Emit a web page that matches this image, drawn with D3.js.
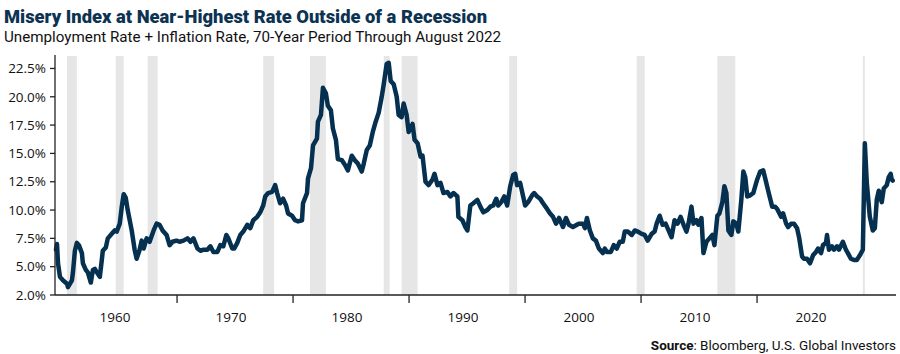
<!DOCTYPE html>
<html>
<head>
<meta charset="utf-8">
<script src="https://cdn.jsdelivr.net/npm/d3@7"></script>
<style>
  html, body { margin: 0; padding: 0; background: #fff; }
  svg { display: block; }
</style>
</head>
<body>
<div id="chart"></div>
<script>
const width = 900;
const height = 354;

// misery index readings (month, percent)
const dates = [
  "1952-08","1952-09","1952-10","1952-12","1953-03","1953-07","1953-08","1953-12","1954-01","1954-03",
  "1954-05","1954-07","1954-10","1954-11","1955-02","1955-04","1955-07","1955-09","1955-11","1956-01",
  "1956-04","1956-06","1956-07","1956-10","1956-12","1957-04","1957-07","1957-09","1957-12","1958-02",
  "1958-04","1958-06","1958-08","1958-12","1959-03","1959-05","1959-08","1959-10","1959-12","1960-03",
  "1960-06","1960-10","1961-01","1961-04","1961-07","1961-11","1962-02","1962-05","1962-09","1962-12",
  "1963-04","1963-08","1963-11","1964-02","1964-06","1964-09","1964-12","1965-04","1965-07","1965-10",
  "1966-02","1966-05","1966-08","1966-11","1967-01","1967-05","1967-07","1967-10","1968-01","1968-04",
  "1968-08","1968-11","1969-02","1969-06","1969-09","1969-12","1970-02","1970-05","1970-09","1970-12",
  "1971-02","1971-05","1971-08","1971-11","1972-01","1972-05","1972-08","1972-11","1973-03","1973-04",
  "1973-08","1973-09","1973-12","1974-02","1974-06","1974-07","1974-10","1974-12","1975-03","1975-05",
  "1975-08","1975-10","1976-01","1976-03","1976-07","1976-10","1977-01","1977-05","1977-08","1977-11",
  "1978-03","1978-05","1978-08","1978-11","1979-02","1979-05","1979-08","1979-11","1980-01","1980-04",
  "1980-06","1980-08","1980-11","1981-02","1981-04","1981-07","1981-09","1981-12","1982-02","1982-06",
  "1982-08","1982-11","1983-02","1983-04","1983-07","1983-10","1984-02","1984-04","1984-07","1984-10",
  "1985-01","1985-05","1985-08","1985-11","1986-03","1986-04","1986-08","1986-11","1987-01","1987-04",
  "1987-07","1987-11","1988-02","1988-05","1988-09","1988-12","1989-03","1989-06","1989-08","1989-11",
  "1990-02","1990-05","1990-08","1990-11","1991-01","1991-03","1991-06","1991-09","1991-11","1992-02",
  "1992-06","1992-08","1992-11","1993-02","1993-05","1993-09","1993-12","1994-03","1994-06","1994-09",
  "1995-01","1995-04","1995-07","1995-11","1996-03","1996-05","1996-09","1996-11","1997-01","1997-04",
  "1997-07","1997-10","1998-01","1998-05","1998-07","1998-09","1999-01","1999-04","1999-07","1999-10",
  "2000-01","2000-03","2000-06","2000-10","2001-01","2001-04","2001-08","2001-11","2002-02","2002-06",
  "2002-09","2002-11","2003-02","2003-05","2003-08","2003-10","2004-02","2004-05","2004-08","2004-11",
  "2005-02","2005-05","2005-07","2005-10","2005-12","2006-03","2006-05","2006-08","2006-10","2007-01",
  "2007-04","2007-07","2007-09","2007-12","2008-02","2008-05","2008-07","2008-09","2008-11","2009-02",
  "2009-04","2009-07","2009-09","2009-12","2010-02","2010-04","2010-06","2010-09","2010-12","2011-04",
  "2011-07","2011-10","2011-12","2012-03","2012-07","2012-10","2012-12","2013-04","2013-06","2013-09",
  "2013-11","2014-02","2014-05","2014-08","2014-10","2015-01","2015-03","2015-06","2015-09","2015-12",
  "2016-03","2016-05","2016-08","2016-10","2017-01","2017-02","2017-04","2017-07","2017-09","2017-12",
  "2018-02","2018-06","2018-09","2018-11","2019-02","2019-05","2019-08","2019-11","2020-02","2020-04",
  "2020-06","2020-09","2020-12","2021-02","2021-04","2021-06","2021-09","2021-11","2022-02","2022-04",
  "2022-06","2022-07","2022-08"
];
const values = [
  6.5, 7.0, 5.3, 4.1, 3.8, 3.5, 3.2, 3.8, 4.5, 6.4,
  7.1, 6.9, 6.2, 5.3, 4.7, 4.5, 3.6, 4.7, 4.8, 4.5,
  4.1, 5.6, 6.4, 6.7, 7.5, 7.9, 8.2, 8.1, 8.8, 10.3,
  11.4, 11.1, 10.0, 8.2, 6.5, 5.7, 6.5, 7.3, 6.6, 7.5,
  7.2, 8.2, 8.8, 8.7, 8.2, 7.8, 6.9, 7.2, 7.3, 7.2,
  7.3, 7.5, 7.2, 7.5, 6.6, 6.4, 6.5, 6.5, 6.8, 6.3,
  6.3, 6.9, 6.8, 7.8, 7.5, 6.6, 6.6, 7.1, 7.8, 8.1,
  8.7, 8.4, 9.1, 9.4, 9.8, 10.4, 11.2, 11.5, 11.6, 12.2,
  11.5, 10.6, 11.0, 10.4, 9.7, 9.5, 9.1, 9.0, 9.1, 10.6,
  11.5, 12.8, 13.7, 15.7, 16.3, 17.8, 18.4, 20.8, 20.3, 19.2,
  18.8, 17.2, 16.2, 14.5, 14.4, 14.0, 13.5, 14.8, 14.4, 14.1,
  13.4, 14.1, 15.3, 15.7, 16.9, 17.8, 18.6, 20.0, 21.1, 22.9,
  23.0, 21.4, 21.1, 20.0, 18.4, 18.2, 19.4, 18.4, 16.9, 17.6,
  16.2, 15.9, 14.7, 14.8, 12.5, 12.2, 12.7, 13.2, 12.2, 12.4,
  11.5, 11.6, 11.2, 11.5, 11.2, 9.4, 9.1, 8.5, 8.2, 10.4,
  10.6, 10.9, 10.3, 9.8, 10.0, 10.3, 10.4, 11.0, 10.4, 10.7,
  11.2, 10.4, 12.1, 13.1, 13.2, 12.2, 12.4, 11.2, 10.4, 10.7,
  11.3, 11.5, 11.2, 11.0, 10.6, 10.1, 9.7, 9.4, 8.8, 9.3,
  8.5, 9.3, 8.7, 8.5, 8.7, 8.8, 8.8, 8.4, 9.3, 8.2,
  7.5, 7.3, 6.6, 6.2, 6.6, 6.3, 6.3, 6.9, 6.6, 7.2,
  7.2, 8.1, 8.1, 7.8, 8.2, 8.1, 7.9, 7.8, 7.3, 7.9,
  8.1, 8.8, 9.5, 8.7, 8.8, 8.4, 7.6, 9.1, 8.8, 9.4,
  8.7, 8.1, 8.8, 10.3, 8.8, 9.1, 8.7, 9.3, 6.2, 7.2,
  7.5, 7.8, 6.9, 9.5, 9.7, 10.7, 12.1, 11.5, 8.2, 7.8,
  9.0, 8.8, 8.1, 10.9, 13.4, 12.9, 11.2, 11.3, 11.5, 12.7,
  13.4, 13.5, 12.8, 11.7, 10.3, 10.3, 10.1, 9.4, 9.7, 8.8,
  8.5, 8.8, 8.8, 8.4, 7.6, 5.9, 5.7, 5.7, 5.3, 6.0,
  6.3, 6.6, 6.2, 6.9, 7.1, 7.8, 6.5, 6.8, 6.5, 6.8,
  6.5, 7.2, 6.5, 6.2, 5.7, 5.6, 5.6, 6.0, 6.5, 15.9,
  12.4, 9.4, 8.2, 8.4, 10.9, 11.7, 10.7, 11.9, 12.2, 12.9,
  13.2, 12.7, 12.6
];

// NBER recessions
const recessionStart = ["1953-07","1957-08","1960-04","1969-12","1973-11","1980-01","1981-07","1990-07","2001-03","2007-12","2020-02"];
const recessionEnd   = ["1954-05","1958-04","1961-02","1970-11","1975-03","1980-07","1982-11","1991-03","2001-11","2009-06","2020-04"];

const yTicks = [2.5, 5, 7.5, 10, 12.5, 15, 17.5, 20, 22.5];
const yTickLabels = ["2.0%","5.0%","7.5%","10.0%","12.5%","15.0%","17.5%","20.0%","22.5%"];
const decades = ["1960","1970","1980","1990","2000","2010","2020"];

const parse = d3.timeParse("%Y-%m");
const data = dates.map((d, i) => ({ date: parse(d), value: values[i] }));
const recessions = recessionStart.map((s, i) => ({ start: parse(s), end: parse(recessionEnd[i]) }));

const plotLeft = 55, plotRight = 896, plotTop = 56, plotBottom = 295;

const svg = d3.select("#chart")
    .append("svg")
    .attr("width", width)
    .attr("height", height);

const x = d3.scaleTime()
    .domain([parse("1952-08"), parse("2022-08")])
    .range([plotLeft + 1, 892.7]);

const y = d3.scaleLinear()
    .domain([2.5, 23.6])
    .range([plotBottom, plotTop]);

// decade labels sit on their own band axis
const xLabel = d3.scaleBand()
    .domain(decades)
    .range([57, 869]);

svg.selectAll("rect.rec")
    .data(recessions)
    .enter()
    .append("rect")
    .attr("class", "rec")
    .attr("x", d => x(d.start))
    .attr("width", d => Math.max(2, x(d.end) - x(d.start)))
    .attr("y", plotTop)
    .attr("height", plotBottom - plotTop)
    .style("fill", "#e6e6e6");

const line = d3.line()
    .x(d => x(d.date))
    .y(d => y(d.value));

svg.append("path")
    .datum(data)
    .attr("d", line)
    .style("fill", "none")
    .style("stroke", "#05304f")
    .style("stroke-width", 4.5)
    .style("stroke-linejoin", "round")
    .style("stroke-linecap", "round");

// axes
svg.append("line")
    .attr("x1", plotLeft).attr("x2", plotLeft)
    .attr("y1", plotTop - 1).attr("y2", plotBottom)
    .style("stroke", "#222").style("stroke-width", 1.3);

svg.append("line")
    .attr("x1", plotLeft).attr("x2", plotRight)
    .attr("y1", plotBottom).attr("y2", plotBottom)
    .style("stroke", "#222").style("stroke-width", 1.3);

const yAxis = svg.append("g").attr("class", "yaxis");
yTicks.forEach((t, i) => {
    yAxis.append("line")
        .attr("x1", plotLeft - 5).attr("x2", plotLeft)
        .attr("y1", y(t)).attr("y2", y(t))
        .style("stroke", "#222").style("stroke-width", 1.3);
    yAxis.append("text")
        .attr("x", plotLeft - 9)
        .attr("y", y(t))
        .attr("dy", "0.35em")
        .attr("text-anchor", "end")
        .style("font-family", "'Open Sans', Roboto, sans-serif")
        .style("font-size", "13.5px")
        .style("fill", "#111")
        .text(yTickLabels[i]);
});

const xAxis = svg.append("g").attr("class", "xaxis");
decades.forEach((d, i) => {
    const cx = xLabel(d) + xLabel.bandwidth() / 2;
    xAxis.append("text")
        .attr("x", cx)
        .attr("y", 322)
        .attr("text-anchor", "middle")
        .style("font-family", "'Open Sans', Roboto, sans-serif")
        .style("font-size", "13.5px")
        .style("fill", "#111")
        .text(d);
    if (i < decades.length - 1) {
        const tx = cx + xLabel.step() * 0.535;
        xAxis.append("line")
            .attr("x1", tx).attr("x2", tx)
            .attr("y1", plotBottom).attr("y2", plotBottom + 8)
            .style("stroke", "#222").style("stroke-width", 1.3);
    }
});

// titles
svg.append("text")
    .attr("x", 4).attr("y", 23)
    .attr("textLength", 483).attr("lengthAdjust", "spacingAndGlyphs")
    .style("font-family", "Roboto, 'Open Sans', sans-serif")
    .style("font-weight", "900")
    .style("font-size", "19px")
    .style("fill", "#0d3352")
    .text("Misery Index at Near-Highest Rate Outside of a Recession");

svg.append("text")
    .attr("x", 4).attr("y", 42)
    .attr("textLength", 497).attr("lengthAdjust", "spacingAndGlyphs")
    .style("font-family", "Roboto, 'Open Sans', sans-serif")
    .style("font-size", "15.5px")
    .style("fill", "#111")
    .text("Unemployment Rate + Inflation Rate, 70-Year Period Through August 2022");

const source = svg.append("text")
    .attr("x", 896).attr("y", 349.5)
    .attr("text-anchor", "end")
    .style("font-family", "Roboto, 'Open Sans', sans-serif")
    .style("font-size", "13.5px")
    .style("fill", "#111");
source.append("tspan").style("font-weight", "bold").text("Source");
source.append("tspan").text(": Bloomberg, U.S. Global Investors");
</script>
</body>
</html>
